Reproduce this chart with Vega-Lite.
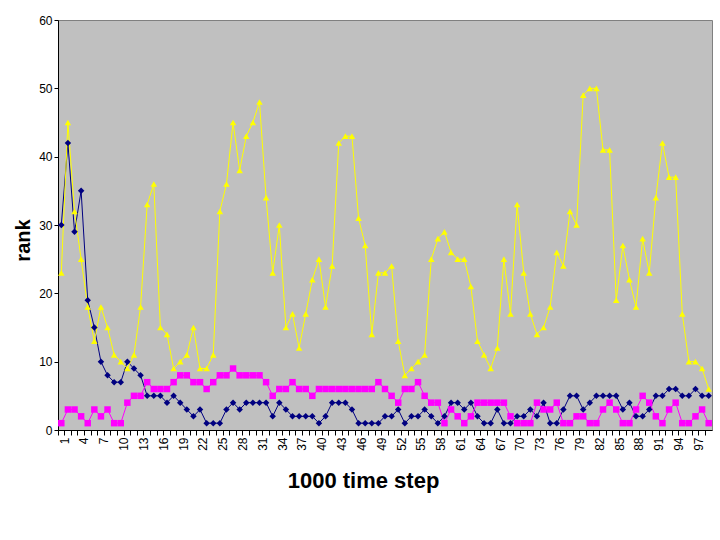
{
"$schema": "https://vega.github.io/schema/vega-lite/v6.json",
"width": 654, "height": 410,
"autosize": {"type": "none"},
"padding": {"left": 58, "top": 20, "right": 8, "bottom": 110},
"background": "white",
"config": {"view": {"fill": "#C0C0C0", "stroke": "#808080", "strokeWidth": 1}, "font": "Liberation Sans"},
"data": {"values": [
{"t":1,"s":"A","rank":30},{"t":2,"s":"A","rank":42},{"t":3,"s":"A","rank":29},{"t":4,"s":"A","rank":35},{"t":5,"s":"A","rank":19},{"t":6,"s":"A","rank":15},{"t":7,"s":"A","rank":10},{"t":8,"s":"A","rank":8},{"t":9,"s":"A","rank":7},{"t":10,"s":"A","rank":7},
{"t":11,"s":"A","rank":10},{"t":12,"s":"A","rank":9},{"t":13,"s":"A","rank":8},{"t":14,"s":"A","rank":5},{"t":15,"s":"A","rank":5},{"t":16,"s":"A","rank":5},{"t":17,"s":"A","rank":4},{"t":18,"s":"A","rank":5},{"t":19,"s":"A","rank":4},{"t":20,"s":"A","rank":3},
{"t":21,"s":"A","rank":2},{"t":22,"s":"A","rank":3},{"t":23,"s":"A","rank":1},{"t":24,"s":"A","rank":1},{"t":25,"s":"A","rank":1},{"t":26,"s":"A","rank":3},{"t":27,"s":"A","rank":4},{"t":28,"s":"A","rank":3},{"t":29,"s":"A","rank":4},{"t":30,"s":"A","rank":4},
{"t":31,"s":"A","rank":4},{"t":32,"s":"A","rank":4},{"t":33,"s":"A","rank":2},{"t":34,"s":"A","rank":4},{"t":35,"s":"A","rank":3},{"t":36,"s":"A","rank":2},{"t":37,"s":"A","rank":2},{"t":38,"s":"A","rank":2},{"t":39,"s":"A","rank":2},{"t":40,"s":"A","rank":1},
{"t":41,"s":"A","rank":2},{"t":42,"s":"A","rank":4},{"t":43,"s":"A","rank":4},{"t":44,"s":"A","rank":4},{"t":45,"s":"A","rank":3},{"t":46,"s":"A","rank":1},{"t":47,"s":"A","rank":1},{"t":48,"s":"A","rank":1},{"t":49,"s":"A","rank":1},{"t":50,"s":"A","rank":2},
{"t":51,"s":"A","rank":2},{"t":52,"s":"A","rank":3},{"t":53,"s":"A","rank":1},{"t":54,"s":"A","rank":2},{"t":55,"s":"A","rank":2},{"t":56,"s":"A","rank":3},{"t":57,"s":"A","rank":2},{"t":58,"s":"A","rank":1},{"t":59,"s":"A","rank":2},{"t":60,"s":"A","rank":4},
{"t":61,"s":"A","rank":4},{"t":62,"s":"A","rank":3},{"t":63,"s":"A","rank":4},{"t":64,"s":"A","rank":2},{"t":65,"s":"A","rank":1},{"t":66,"s":"A","rank":1},{"t":67,"s":"A","rank":3},{"t":68,"s":"A","rank":1},{"t":69,"s":"A","rank":1},{"t":70,"s":"A","rank":2},
{"t":71,"s":"A","rank":2},{"t":72,"s":"A","rank":3},{"t":73,"s":"A","rank":2},{"t":74,"s":"A","rank":4},{"t":75,"s":"A","rank":1},{"t":76,"s":"A","rank":1},{"t":77,"s":"A","rank":3},{"t":78,"s":"A","rank":5},{"t":79,"s":"A","rank":5},{"t":80,"s":"A","rank":3},
{"t":81,"s":"A","rank":4},{"t":82,"s":"A","rank":5},{"t":83,"s":"A","rank":5},{"t":84,"s":"A","rank":5},{"t":85,"s":"A","rank":5},{"t":86,"s":"A","rank":3},{"t":87,"s":"A","rank":4},{"t":88,"s":"A","rank":2},{"t":89,"s":"A","rank":2},{"t":90,"s":"A","rank":3},
{"t":91,"s":"A","rank":5},{"t":92,"s":"A","rank":5},{"t":93,"s":"A","rank":6},{"t":94,"s":"A","rank":6},{"t":95,"s":"A","rank":5},{"t":96,"s":"A","rank":5},{"t":97,"s":"A","rank":6},{"t":98,"s":"A","rank":5},{"t":99,"s":"A","rank":5},
{"t":1,"s":"B","rank":1},{"t":2,"s":"B","rank":3},{"t":3,"s":"B","rank":3},{"t":4,"s":"B","rank":2},{"t":5,"s":"B","rank":1},{"t":6,"s":"B","rank":3},{"t":7,"s":"B","rank":2},{"t":8,"s":"B","rank":3},{"t":9,"s":"B","rank":1},{"t":10,"s":"B","rank":1},
{"t":11,"s":"B","rank":4},{"t":12,"s":"B","rank":5},{"t":13,"s":"B","rank":5},{"t":14,"s":"B","rank":7},{"t":15,"s":"B","rank":6},{"t":16,"s":"B","rank":6},{"t":17,"s":"B","rank":6},{"t":18,"s":"B","rank":7},{"t":19,"s":"B","rank":8},{"t":20,"s":"B","rank":8},
{"t":21,"s":"B","rank":7},{"t":22,"s":"B","rank":7},{"t":23,"s":"B","rank":6},{"t":24,"s":"B","rank":7},{"t":25,"s":"B","rank":8},{"t":26,"s":"B","rank":8},{"t":27,"s":"B","rank":9},{"t":28,"s":"B","rank":8},{"t":29,"s":"B","rank":8},{"t":30,"s":"B","rank":8},
{"t":31,"s":"B","rank":8},{"t":32,"s":"B","rank":7},{"t":33,"s":"B","rank":5},{"t":34,"s":"B","rank":6},{"t":35,"s":"B","rank":6},{"t":36,"s":"B","rank":7},{"t":37,"s":"B","rank":6},{"t":38,"s":"B","rank":6},{"t":39,"s":"B","rank":5},{"t":40,"s":"B","rank":6},
{"t":41,"s":"B","rank":6},{"t":42,"s":"B","rank":6},{"t":43,"s":"B","rank":6},{"t":44,"s":"B","rank":6},{"t":45,"s":"B","rank":6},{"t":46,"s":"B","rank":6},{"t":47,"s":"B","rank":6},{"t":48,"s":"B","rank":6},{"t":49,"s":"B","rank":7},{"t":50,"s":"B","rank":6},
{"t":51,"s":"B","rank":5},{"t":52,"s":"B","rank":4},{"t":53,"s":"B","rank":6},{"t":54,"s":"B","rank":6},{"t":55,"s":"B","rank":7},{"t":56,"s":"B","rank":5},{"t":57,"s":"B","rank":4},{"t":58,"s":"B","rank":4},{"t":59,"s":"B","rank":1},{"t":60,"s":"B","rank":3},
{"t":61,"s":"B","rank":2},{"t":62,"s":"B","rank":1},{"t":63,"s":"B","rank":2},{"t":64,"s":"B","rank":4},{"t":65,"s":"B","rank":4},{"t":66,"s":"B","rank":4},{"t":67,"s":"B","rank":4},{"t":68,"s":"B","rank":4},{"t":69,"s":"B","rank":2},{"t":70,"s":"B","rank":1},
{"t":71,"s":"B","rank":1},{"t":72,"s":"B","rank":1},{"t":73,"s":"B","rank":4},{"t":74,"s":"B","rank":3},{"t":75,"s":"B","rank":3},{"t":76,"s":"B","rank":4},{"t":77,"s":"B","rank":1},{"t":78,"s":"B","rank":1},{"t":79,"s":"B","rank":2},{"t":80,"s":"B","rank":2},
{"t":81,"s":"B","rank":1},{"t":82,"s":"B","rank":1},{"t":83,"s":"B","rank":3},{"t":84,"s":"B","rank":4},{"t":85,"s":"B","rank":3},{"t":86,"s":"B","rank":1},{"t":87,"s":"B","rank":1},{"t":88,"s":"B","rank":3},{"t":89,"s":"B","rank":5},{"t":90,"s":"B","rank":4},
{"t":91,"s":"B","rank":2},{"t":92,"s":"B","rank":1},{"t":93,"s":"B","rank":3},{"t":94,"s":"B","rank":4},{"t":95,"s":"B","rank":1},{"t":96,"s":"B","rank":1},{"t":97,"s":"B","rank":2},{"t":98,"s":"B","rank":3},{"t":99,"s":"B","rank":1},
{"t":1,"s":"C","rank":23},{"t":2,"s":"C","rank":45},{"t":3,"s":"C","rank":32},{"t":4,"s":"C","rank":25},{"t":5,"s":"C","rank":18},{"t":6,"s":"C","rank":13},{"t":7,"s":"C","rank":18},{"t":8,"s":"C","rank":15},{"t":9,"s":"C","rank":11},{"t":10,"s":"C","rank":10},
{"t":11,"s":"C","rank":9},{"t":12,"s":"C","rank":11},{"t":13,"s":"C","rank":18},{"t":14,"s":"C","rank":33},{"t":15,"s":"C","rank":36},{"t":16,"s":"C","rank":15},{"t":17,"s":"C","rank":14},{"t":18,"s":"C","rank":9},{"t":19,"s":"C","rank":10},{"t":20,"s":"C","rank":11},
{"t":21,"s":"C","rank":15},{"t":22,"s":"C","rank":9},{"t":23,"s":"C","rank":9},{"t":24,"s":"C","rank":11},{"t":25,"s":"C","rank":32},{"t":26,"s":"C","rank":36},{"t":27,"s":"C","rank":45},{"t":28,"s":"C","rank":38},{"t":29,"s":"C","rank":43},{"t":30,"s":"C","rank":45},
{"t":31,"s":"C","rank":48},{"t":32,"s":"C","rank":34},{"t":33,"s":"C","rank":23},{"t":34,"s":"C","rank":30},{"t":35,"s":"C","rank":15},{"t":36,"s":"C","rank":17},{"t":37,"s":"C","rank":12},{"t":38,"s":"C","rank":17},{"t":39,"s":"C","rank":22},{"t":40,"s":"C","rank":25},
{"t":41,"s":"C","rank":18},{"t":42,"s":"C","rank":24},{"t":43,"s":"C","rank":42},{"t":44,"s":"C","rank":43},{"t":45,"s":"C","rank":43},{"t":46,"s":"C","rank":31},{"t":47,"s":"C","rank":27},{"t":48,"s":"C","rank":14},{"t":49,"s":"C","rank":23},{"t":50,"s":"C","rank":23},
{"t":51,"s":"C","rank":24},{"t":52,"s":"C","rank":13},{"t":53,"s":"C","rank":8},{"t":54,"s":"C","rank":9},{"t":55,"s":"C","rank":10},{"t":56,"s":"C","rank":11},{"t":57,"s":"C","rank":25},{"t":58,"s":"C","rank":28},{"t":59,"s":"C","rank":29},{"t":60,"s":"C","rank":26},
{"t":61,"s":"C","rank":25},{"t":62,"s":"C","rank":25},{"t":63,"s":"C","rank":21},{"t":64,"s":"C","rank":13},{"t":65,"s":"C","rank":11},{"t":66,"s":"C","rank":9},{"t":67,"s":"C","rank":12},{"t":68,"s":"C","rank":25},{"t":69,"s":"C","rank":17},{"t":70,"s":"C","rank":33},
{"t":71,"s":"C","rank":23},{"t":72,"s":"C","rank":17},{"t":73,"s":"C","rank":14},{"t":74,"s":"C","rank":15},{"t":75,"s":"C","rank":18},{"t":76,"s":"C","rank":26},{"t":77,"s":"C","rank":24},{"t":78,"s":"C","rank":32},{"t":79,"s":"C","rank":30},{"t":80,"s":"C","rank":49},
{"t":81,"s":"C","rank":50},{"t":82,"s":"C","rank":50},{"t":83,"s":"C","rank":41},{"t":84,"s":"C","rank":41},{"t":85,"s":"C","rank":19},{"t":86,"s":"C","rank":27},{"t":87,"s":"C","rank":22},{"t":88,"s":"C","rank":18},{"t":89,"s":"C","rank":28},{"t":90,"s":"C","rank":23},
{"t":91,"s":"C","rank":34},{"t":92,"s":"C","rank":42},{"t":93,"s":"C","rank":37},{"t":94,"s":"C","rank":37},{"t":95,"s":"C","rank":17},{"t":96,"s":"C","rank":10},{"t":97,"s":"C","rank":10},{"t":98,"s":"C","rank":9},{"t":99,"s":"C","rank":6}
]},
"encoding": {
  "x": {"field": "t", "type": "ordinal",
    "scale": {"type": "band", "paddingInner": 0, "paddingOuter": 0},
    "axis": {"title": "1000 time step", "titleFontSize": 22, "titleFontWeight": "bold", "titleFont": "Liberation Sans", "titleColor": "black", "titlePadding": 20, "titleX": 305,
      "labelAngle": 270, "labelFontSize": 12, "labelColor": "black", "labelFont": "Liberation Sans",
      "labelExpr": "(datum.value - 1) % 3 == 0 ? datum.label : ''",
      "bandPosition": 0, "labelOffset": 3.3, "labelOverlap": false, "labelPadding": 2,
      "tickSize": 5, "tickColor": "black", "domainColor": "black", "grid": false}},
  "y": {"field": "rank", "type": "quantitative", "scale": {"domain": [0, 60]},
    "axis": {"values": [0, 10, 20, 30, 40, 50, 60], "title": "rank", "titleFontSize": 20, "titleFontWeight": "bold", "titleFont": "Liberation Sans", "titleColor": "black", "titlePadding": 5, "titleY": 220,
      "labelFontSize": 12, "labelColor": "black", "labelFont": "Liberation Sans", "labelPadding": 2,
      "tickSize": 4, "tickColor": "black", "domainColor": "black", "grid": false}},
  "color": {"field": "s", "type": "nominal", "scale": {"domain": ["A", "B", "C"], "range": ["#000080", "#FF00FF", "#FFFF00"]}, "legend": null}
},
"layer": [
  {"mark": {"type": "line", "strokeWidth": 1}},
  {"mark": {"type": "point", "filled": true, "opacity": 1, "size": 42},
   "encoding": {"shape": {"field": "s", "type": "nominal", "scale": {"domain": ["A", "B", "C"], "range": ["diamond", "square", "triangle-up"]}, "legend": null}}}
]
}
